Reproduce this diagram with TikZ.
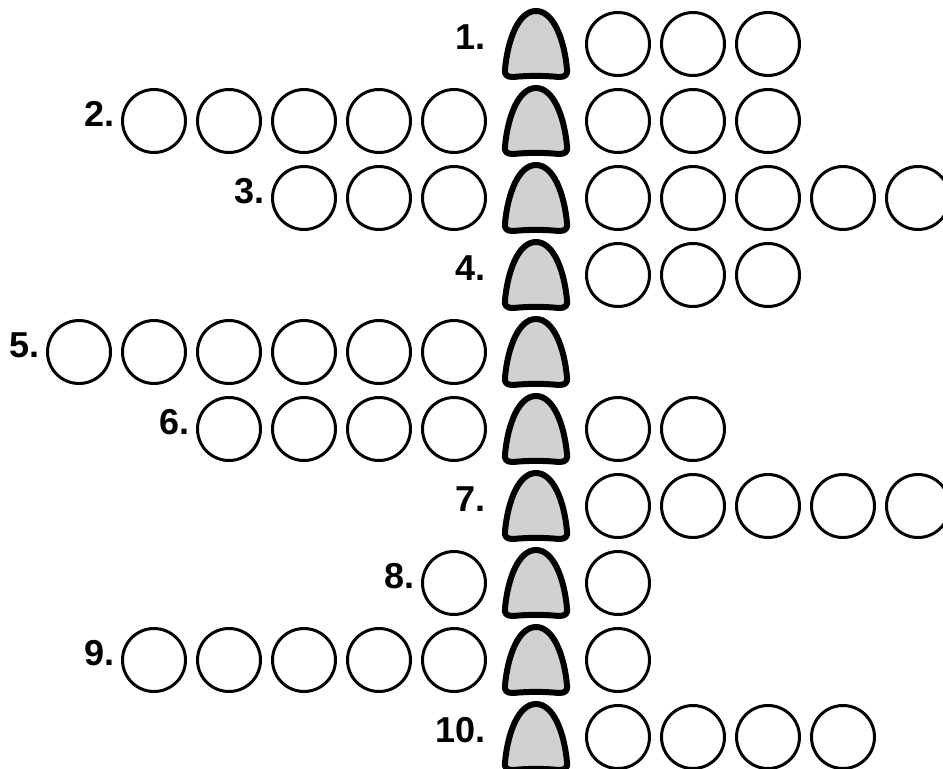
\documentclass[tikz,border=0pt]{standalone}
\usepackage{fontspec}
\setmainfont{Liberation Sans}
\usetikzlibrary{positioning}

\begin{document}
\begin{tikzpicture}[
    x=0.02cm, y=-0.02cm,
    cell/.style={draw,circle,line width=0.06cm,minimum size=1.26cm,inner sep=0pt},
    bellspot/.style={inner sep=0pt,outer sep=0pt,minimum width=1.36cm,minimum height=1.44cm},
    num/.style={font=\bfseries\fontsize{20.5}{20.5}\selectfont,inner sep=0pt,yshift=0.14cm},
    bellcell/.pic={
      \draw[line width=0.12cm,fill=black!18,line join=round]
        (-31,25) .. controls (-32,31) and (-29,33) .. (-23,33)
        .. controls (-8,31.5) and (8,31.5) .. (23,33)
        .. controls (29,33) and (32,31) .. (31,25)
        .. controls (28,-6) and (17,-33) .. (0,-33)
        .. controls (-17,-33) and (-28,-6) .. (-31,25) -- cycle;
    }
  ]
  \useasboundingbox (0,0) rectangle (943,768);
  \fill[white] (0,0) rectangle (943,768);
  % row / cells left of the bell / cells right of the bell
  \foreach \row/\nl/\nr in {1/0/3, 2/5/3, 3/3/5, 4/0/3, 5/6/0,
                            6/4/2, 7/0/5, 8/1/1, 9/5/1, 10/0/4} {
    \pgfmathsetmacro{\ypos}{44+77*(\row-1)}
    \node[bellspot] (b\row) at (536,\ypos) {};
    \pic at (b\row) {bellcell};
    \ifnum\nr>0
      \foreach \k in {1,...,\nr}
        \node[cell] (r\row-\k) at (543+75*\k,\ypos) {};
    \fi
    \ifnum\nl>0
      \foreach \k in {1,...,\nl}
        \node[cell] (l\row-\k) at (529-75*\k,\ypos) {};
      \node[num,left=0.12cm of l\row-\nl] (n\row) {\row.};
    \else
      \node[num,left=0.32cm of b\row] (n\row) {\row.};
    \fi
  }
\end{tikzpicture}
\end{document}
